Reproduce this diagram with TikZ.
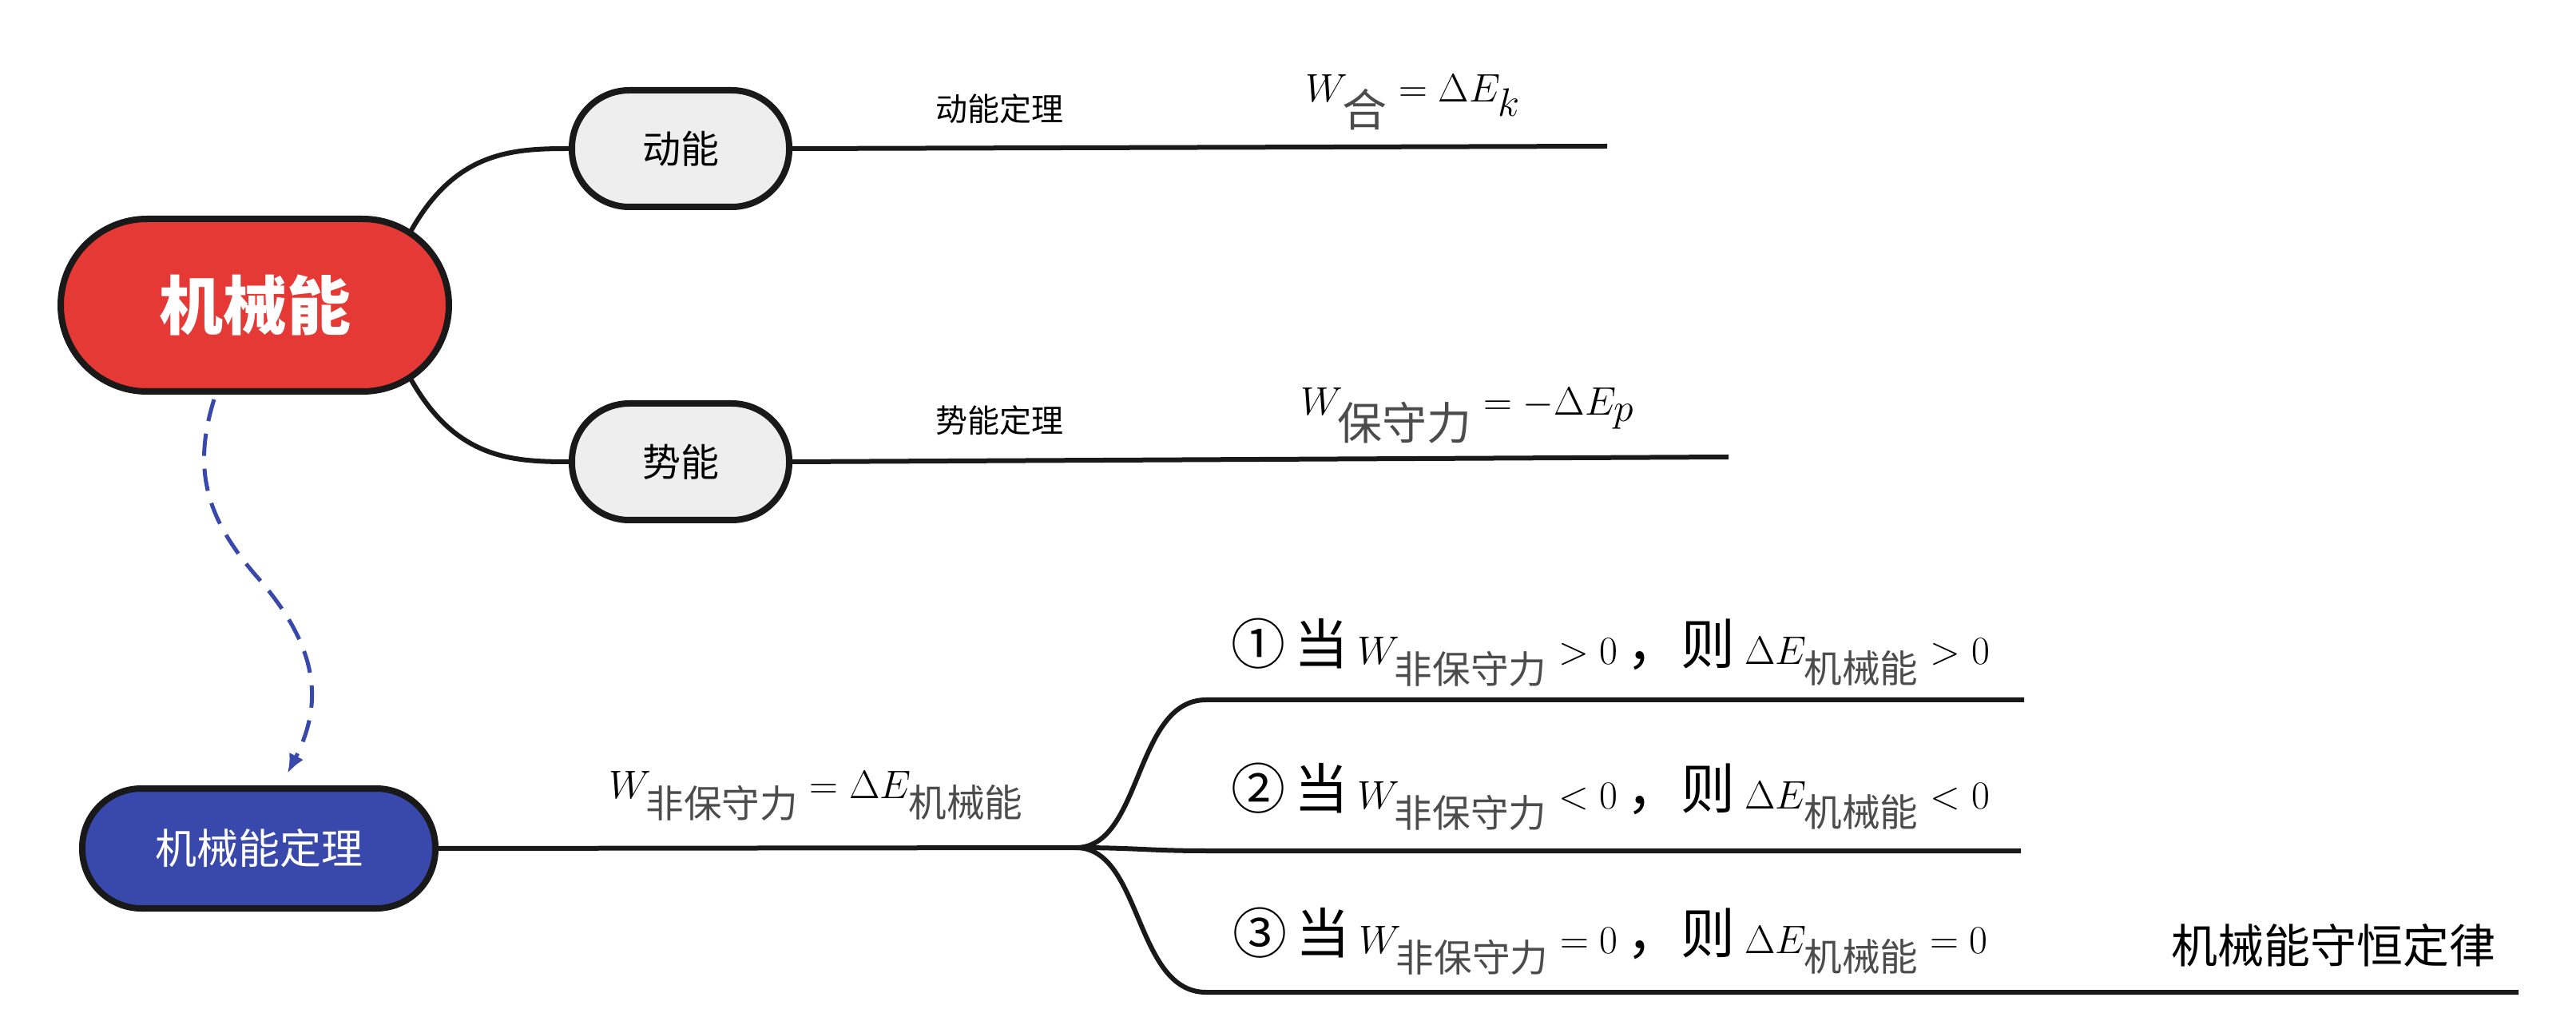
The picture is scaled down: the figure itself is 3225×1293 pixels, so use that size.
\documentclass[tikz,border=0pt]{standalone}
\usepackage{amsmath}
\usepackage{fontspec}
\usetikzlibrary{arrows.meta}
\newfontfamily\cjk{Noto Sans CJK SC}
\definecolor{myred}{HTML}{E53935}
\definecolor{myblue}{HTML}{3949AB}
\definecolor{mygray}{HTML}{EEEEEE}
\newcommand{\sub}[1]{\text{\cjk\color{black!70}#1}}
\begin{document}
\begin{tikzpicture}[x=0.5pt,y=-0.5pt,
  pill/.style={rounded corners=34pt,draw=black!90,line width=4pt,inner sep=0pt},
  conn/.style={line width=3pt,black!90},
  lab/.style={font=\cjk\fontsize{20}{22}\selectfont,anchor=base},
  frm/.style={anchor=base,inner sep=0pt}]
\useasboundingbox (0,0) rectangle (3225,1293);
\node[pill,fill=myred,minimum width=243pt,minimum height=108pt,rounded corners=54pt,text=white,font=\cjk\bfseries\fontsize{40}{44}\selectfont] (root) at (319,382) {机械能};
\node[pill,fill=mygray,minimum width=136pt,minimum height=73pt,rounded corners=36pt,font=\cjk\fontsize{24}{28}\selectfont] (dn) at (852,186) {动能};
\node[pill,fill=mygray,minimum width=136pt,minimum height=73pt,rounded corners=36pt,font=\cjk\fontsize{24}{28}\selectfont] (sn) at (852,578) {势能};
\node[pill,fill=myblue,minimum width=221pt,minimum height=75pt,rounded corners=37pt,text=white,font=\cjk\fontsize{26}{30}\selectfont] (thm) at (324,1062) {机械能定理};

\coordinate (r1) at (514,290);
\coordinate (r2) at (514,474);
\draw[conn] (r1) .. controls (570,190) and (640,186) .. (dn.west);
\draw[conn] (r2) .. controls (570,574) and (640,578) .. (sn.west);

\coordinate (dnE) at (2012,183);
\coordinate (snE) at (2164,572);
\draw[conn] (dn.east) -- (dnE);
\draw[conn] (sn.east) -- (snE);
\node[lab] (l1) at (1251,152) {动能定理};
\node[lab] (l2) at (1251,542) {势能定理};
\node[frm,font=\fontsize{40}{44}\selectfont] (f1) at (1769,128) {$W_{\sub{合}}=\Delta E_k$};
\node[frm,font=\fontsize{40}{44}\selectfont] (f2) at (1837,520) {$W_{\sub{保守力}}=-\Delta E_p$};

\draw[myblue,line width=2.5pt,dash pattern=on 14pt off 8pt,-{Latex[length=12pt,width=10pt]}]
  (268,500) .. controls (240,590) and (260,650) .. (320,720) .. controls (400,810) and (405,880) .. (360,968);

\coordinate (fork) at (1347,1061);
\draw[conn] (thm.east) -- (fork);
\node[frm,font=\fontsize{34}{38}\selectfont] (f3) at (1022,1000) {$W_{\sub{非保守力}}=\Delta E_{\sub{机械能}}$};

\coordinate (b1) at (1510,876); \coordinate (b1e) at (2534,876);
\coordinate (b2) at (1510,1065); \coordinate (b2e) at (2530,1065);
\coordinate (b3) at (1510,1242); \coordinate (b3e) at (3153,1242);
\draw[conn] (fork) .. controls (1430,1061) and (1420,876) .. (b1) -- (b1e);
\draw[conn] (fork) .. controls (1420,1061) and (1440,1065) .. (b2) -- (b2e);
\draw[conn] (fork) .. controls (1430,1061) and (1420,1242) .. (b3) -- (b3e);

\node[frm,font=\fontsize{34}{38}\selectfont] (c1) at (2016,832) {{\cjk ①\,当}\,$W_{\sub{非保守力}}>0$\,{\cjk ，则}\,$\Delta E_{\sub{机械能}}>0$};
\node[frm,font=\fontsize{34}{38}\selectfont] (c2) at (2016,1012) {{\cjk ②\,当}\,$W_{\sub{非保守力}}<0$\,{\cjk ，则}\,$\Delta E_{\sub{机械能}}<0$};
\node[frm,font=\fontsize{34}{38}\selectfont] (c3) at (2016,1193) {{\cjk ③\,当}\,$W_{\sub{非保守力}}=0$\,{\cjk ，则}\,$\Delta E_{\sub{机械能}}=0$};
\node[frm,font=\cjk\fontsize{29}{32}\selectfont] (law) at (2921,1205) {机械能守恒定律};
\end{tikzpicture}
\end{document}
